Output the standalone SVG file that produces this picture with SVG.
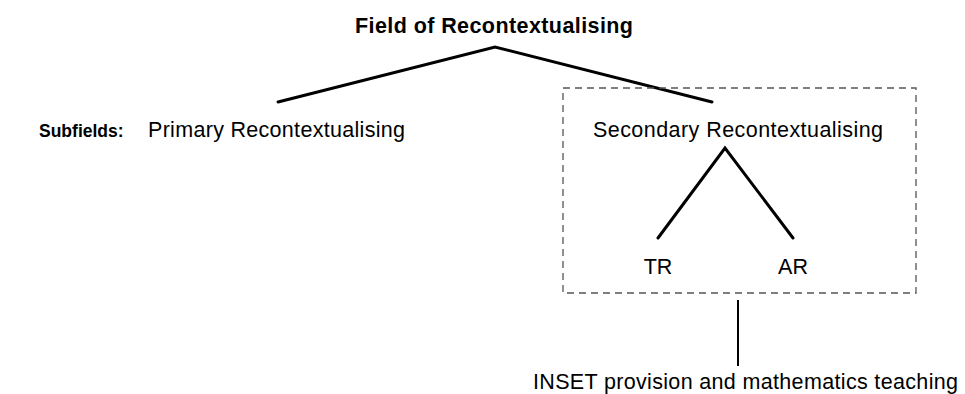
<svg xmlns="http://www.w3.org/2000/svg" width="965" height="394" viewBox="0 0 965 394">
<style>
text{font-family:"Liberation Sans",Arial,sans-serif;font-size:21.5px;fill:#000}
.b{font-weight:bold}
.ln{stroke:#000;stroke-width:3;fill:none;stroke-linecap:round}
.box{stroke:#555;stroke-width:1.3;fill:none;stroke-dasharray:7 5}
</style>
<rect width="965" height="394" fill="#fff"/>
<g id="connectors">
<polyline class="ln" points="278,102 495,47 712,102"/>
<polyline class="ln" points="658,238 725,148 793,238"/>
<line x1="738" y1="300" x2="738" y2="366" stroke="#000" stroke-width="2"/>
</g>
<g id="field"><text class="b" x="355" y="33" textLength="278" lengthAdjust="spacing">Field of Recontextualising</text></g>
<g id="subfields-label"><text class="b" x="39" y="137" style="font-size:17.5px">Subfields:</text></g>
<g id="primary"><text x="148" y="137" textLength="257" lengthAdjust="spacing">Primary Recontextualising</text></g>
<g id="secondary">
<rect class="box" x="563" y="88" width="353" height="205"/>
<text x="593" y="137" textLength="290" lengthAdjust="spacing">Secondary Recontextualising</text>
</g>
<g id="tr"><text x="658" y="274" text-anchor="middle">TR</text></g>
<g id="ar"><text x="793" y="274" text-anchor="middle">AR</text></g>
<g id="inset"><text x="533" y="389" textLength="425" lengthAdjust="spacing">INSET provision and mathematics teaching</text></g>
</svg>
